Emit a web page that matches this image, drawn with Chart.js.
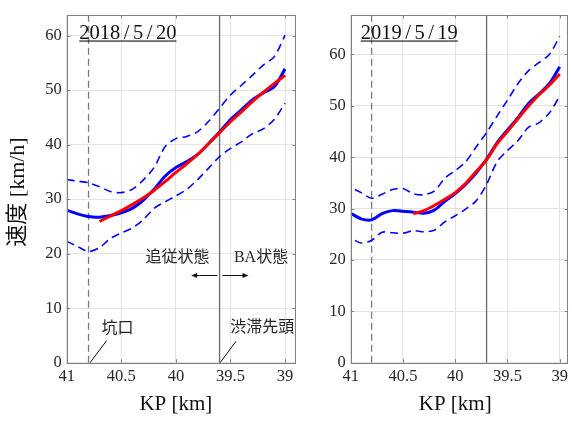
<!DOCTYPE html>
<html>
<head>
<meta charset="utf-8">
<script src="https://cdn.jsdelivr.net/npm/chart.js@4"></script>
<style>
  html, body { margin: 0; padding: 0; background: #fff; width: 572px; height: 421px; overflow: hidden; }
  canvas { position: absolute; top: 0; }
  #c1 { left: 0; }
  #c2 { left: 300px; }
</style>
</head>
<body>
<canvas id="c1" width="300" height="421"></canvas>
<canvas id="c2" width="272" height="421"></canvas>
<script>
// ---- KP positions (km) ----
const kp = [41.0, 40.9, 40.8, 40.7, 40.6, 40.5, 40.4, 40.3, 40.2, 40.1, 40.0,
            39.9, 39.8, 39.7, 39.6, 39.5, 39.4, 39.3, 39.2, 39.1, 39.0];

// ---- 2018/5/20 ----
const mean2018  = [28.0, 27.3, 26.8, 26.7, 27.0, 27.5, 28.3, 29.8, 31.8, 34.2, 35.8,
                   36.9, 38.2, 40.2, 42.3, 44.6, 46.4, 48.2, 49.5, 50.6, 53.9];
const upper2018 = [33.6, 33.3, 33.0, 32.3, 31.4, 31.2, 31.8, 33.5, 35.8, 39.6, 41.1,
                   41.5, 42.4, 44.3, 46.7, 49.1, 50.9, 52.7, 54.6, 56.1, 60.1];
const lower2018 = [22.3, 21.3, 20.4, 21.1, 22.8, 23.8, 24.7, 26.2, 28.3, 29.5, 30.6,
                   31.8, 33.6, 35.7, 37.8, 39.3, 40.5, 42.0, 42.9, 44.6, 47.6];
const fitKp2018 = [40.7, 40.6, 40.5, 40.4, 40.3, 40.2, 40.1, 40.0, 39.9,
                   39.8, 39.7, 39.6, 39.5, 39.4, 39.3, 39.2, 39.1, 39.0];
const fit2018   = [25.9, 26.9, 27.9, 29.0, 30.2, 31.6, 33.2, 34.9, 36.5,
                   38.2, 40.2, 42.2, 44.2, 46.0, 47.9, 49.6, 51.2, 52.7];

// ---- 2019/5/19 ----
const mean2019  = [29.1, 28.0, 27.8, 29.0, 29.6, 29.5, 29.3, 29.1, 29.7, 31.4, 32.9,
                   34.7, 36.9, 39.6, 42.8, 45.3, 47.7, 50.4, 52.3, 54.3, 57.6];
const bandKp2019 = [40.96, 40.9, 40.8, 40.7, 40.6, 40.5, 40.4, 40.3, 40.2, 40.1, 40.0,
                    39.9, 39.8, 39.7, 39.6, 39.5, 39.4, 39.3, 39.2, 39.1, 39.0];
const upper2019 = [33.7, 33.1, 32.0, 32.8, 33.7, 33.9, 32.9, 32.7, 33.4, 35.9, 37.4,
                   39.1, 42.0, 44.8, 48.0, 51.1, 54.3, 56.8, 58.4, 60.0, 63.5];
const lower2019 = [23.8, 23.3, 23.8, 25.4, 25.3, 25.2, 25.7, 25.5, 25.8, 27.4, 28.6,
                   29.9, 31.5, 34.7, 39.1, 41.3, 43.2, 45.8, 46.7, 48.6, 51.9];
const fitKp2019 = [40.4, 40.3, 40.2, 40.1, 40.0, 39.9, 39.8, 39.7, 39.6,
                   39.5, 39.4, 39.3, 39.2, 39.1, 39.0];
const fit2019   = [29.0, 29.6, 30.6, 31.8, 33.1, 34.9, 37.2, 39.5, 42.6,
                   45.0, 47.5, 49.9, 52.1, 54.0, 56.2];

// ---- axes ----
const xTicks = [41, 40.5, 40, 39.5, 39];
const xTickLabels = ['41', '40.5', '40', '39.5', '39'];
const yTicks = [0, 10, 20, 30, 40, 50, 60];
const yTickLabels = ['0', '10', '20', '30', '40', '50', '60'];

// ---- reference positions ----
const tunnelKp = 40.8;       // 坑口
const headKp2018 = 39.6;     // 渋滞先頭
const headKp2019 = 39.7;

const serif = '"Liberation Serif", "Noto Sans CJK JP", serif';
const inkColor = '#262626';

function pts(xs, ys) { return xs.map((x, i) => ({ x: x, y: ys[i] })); }

function vline(x, ymax, dashed, color) {
  return {
    data: [{ x: x, y: 0 }, { x: x, y: ymax }],
    borderColor: color, borderWidth: 1.3, borderDash: dashed ? [7, 4] : [],
    pointRadius: 0, tension: 0, order: 10
  };
}

// frame, inward ticks, title and annotations drawn on top of the plot
const decorations = {
  id: 'decorations',
  afterDraw(chart, args, o) {
    const ctx = chart.ctx;
    const a = chart.chartArea;
    const xs = chart.scales.x, ys = chart.scales.y;
    ctx.save();
    // frame
    ctx.strokeStyle = '#808080';
    ctx.lineWidth = 1;
    ctx.strokeRect(Math.round(a.left) + 0.5, Math.round(a.top) + 0.5,
                   Math.round(a.right - a.left) - 1, Math.round(a.bottom - a.top));
    // inward ticks
    const tl = 3.5;
    ctx.beginPath();
    xTicks.forEach(v => {
      const px = Math.round(xs.getPixelForValue(v)) + 0.5;
      ctx.moveTo(px, a.bottom); ctx.lineTo(px, a.bottom - tl);
      ctx.moveTo(px, a.top); ctx.lineTo(px, a.top + tl);
    });
    yTicks.forEach(v => {
      const py = Math.round(ys.getPixelForValue(v)) + 0.5;
      ctx.moveTo(a.left, py); ctx.lineTo(a.left + tl, py);
      ctx.moveTo(a.right, py); ctx.lineTo(a.right - tl, py);
    });
    ctx.stroke();

    // date title, underlined
    ctx.fillStyle = '#111';
    ctx.font = '20.5px ' + serif;
    ctx.textBaseline = 'alphabetic';
    ctx.textAlign = 'left';
    let tx = a.left + o.titleDx;
    const tx0 = tx;
    for (const ch of o.title) {
      if (ch === '/') tx += 3.5;
      ctx.fillText(ch, tx, 39);
      tx += ctx.measureText(ch).width;
      if (ch === '/') tx += 3.5;
    }
    ctx.fillRect(tx0, 40.5, tx - tx0, 1.1);

    // axis titles
    ctx.fillStyle = '#111';
    ctx.textAlign = 'center';
    ctx.font = '21px ' + serif;
    const xc = (xs.getPixelForValue(xTicks[0]) + xs.getPixelForValue(xTicks[xTicks.length - 1])) / 2;
    ctx.fillText('KP [km]', xc, 410);
    if (o.yTitle) {
      ctx.save();
      ctx.translate(18, 192);
      ctx.rotate(-Math.PI / 2);
      ctx.font = '22px ' + serif;
      ctx.textBaseline = 'middle';
      ctx.fillText('速度 [km/h]', 0, 0);
      ctx.restore();
    }

    // annotations in data coordinates
    ctx.fillStyle = inkColor;
    ctx.strokeStyle = '#111';
    ctx.font = '16px ' + serif;
    ctx.textBaseline = 'middle';
    ctx.textAlign = 'center';
    (o.labels || []).forEach(l => {
      ctx.fillText(l.text, xs.getPixelForValue(l.x), ys.getPixelForValue(l.y));
    });
    ctx.lineWidth = 1;
    (o.leaders || []).forEach(l => {
      ctx.beginPath();
      ctx.moveTo(xs.getPixelForValue(l.x1), ys.getPixelForValue(l.y1));
      ctx.lineTo(xs.getPixelForValue(l.x2), ys.getPixelForValue(l.y2));
      ctx.stroke();
    });
    ctx.fillStyle = '#111';
    (o.arrows || []).forEach(l => {
      const x1 = xs.getPixelForValue(l.x1), x2 = xs.getPixelForValue(l.x2);
      const y = Math.round(ys.getPixelForValue(l.y)) + 0.5;
      const dir = Math.sign(x2 - x1);
      ctx.beginPath();
      ctx.moveTo(x1, y); ctx.lineTo(x2 - dir * 4, y);
      ctx.stroke();
      ctx.beginPath();
      ctx.moveTo(x2, y);
      ctx.lineTo(x2 - dir * 6, y - 2.5);
      ctx.lineTo(x2 - dir * 6, y + 2.5);
      ctx.closePath();
      ctx.fill();
    });
    ctx.restore();
  }
};

function makeChart(id, cfg) {
  const ds = [
    vline(tunnelKp, cfg.ymax, true, '#7a7a7a'),
    vline(cfg.headKp, cfg.ymax, false, '#6a6a6a'),
    { data: pts(cfg.bandKp, cfg.upper), borderColor: '#0000ff', borderWidth: 1.6,
      borderDash: [8, 5], pointRadius: 0, tension: 0.3, order: 5 },
    { data: pts(cfg.bandKp, cfg.lower), borderColor: '#0000ff', borderWidth: 1.6,
      borderDash: [8, 5], pointRadius: 0, tension: 0.3, order: 5 },
    { data: pts(kp, cfg.mean), borderColor: '#0000ff', borderWidth: 3,
      pointRadius: 0, tension: 0.3, order: 2 },
    { data: pts(cfg.fitKp, cfg.fit), borderColor: '#ff0000', borderWidth: 3,
      pointRadius: 0, tension: 0.3, order: 1 }
  ];
  return new Chart(document.getElementById(id), {
    type: 'line',
    data: { datasets: ds },
    plugins: [decorations],
    options: {
      responsive: false,
      animation: false,
      events: [],
      layout: { padding: cfg.padding },
      plugins: {
        legend: { display: false },
        tooltip: { enabled: false },
        decorations: cfg.deco
      },
      scales: {
        x: {
          type: 'linear', reverse: true, min: cfg.xmin, max: 41,
          afterBuildTicks: s => { s.ticks = xTicks.map(v => ({ value: v })); },
          afterFit: s => { s.height = cfg.xAxisHeight; },
          ticks: {
            autoSkip: false, maxRotation: 0, padding: 4, color: inkColor,
            font: { family: serif, size: 16.5 },
            callback: (v, i) => xTickLabels[i]
          },
          grid: { color: '#e3e3e3', lineWidth: 1, drawTicks: false },
          border: { display: false }
        },
        y: {
          type: 'linear', min: 0, max: cfg.ymax,
          afterBuildTicks: s => { s.ticks = yTicks.map(v => ({ value: v })); },
          afterFit: s => { s.width = cfg.yAxisWidth; },
          ticks: {
            autoSkip: false, padding: 5, color: inkColor,
            font: { family: serif, size: 16.5 },
            callback: (v, i) => yTickLabels[i]
          },
          grid: { color: '#e3e3e3', lineWidth: 1, drawTicks: false },
          border: { display: false }
        }
      }
    }
  });
}

makeChart('c1', {
  ymax: 63.8, xmin: 38.9, headKp: headKp2018,
  bandKp: kp, upper: upper2018, lower: lower2018, mean: mean2018,
  fitKp: fitKp2018, fit: fit2018,
  padding: { left: 0, top: 6, right: 4, bottom: 0 },
  xAxisHeight: 58.3, yAxisWidth: 66.7,
  deco: {
    title: '2018/5/20', titleDx: 12.6, yTitle: true,
    labels: [
      { text: '追従状態', x: 39.985, y: 19.2 },
      { text: 'BA状態', x: 39.22, y: 19.2 },
      { text: '渋滞先頭', x: 39.21, y: 6.4 },
      { text: '坑口', x: 40.535, y: 6.3 }
    ],
    leaders: [
      { x1: 40.634, y1: 4.06, x2: 40.786, y2: 0 },
      { x1: 39.449, y1: 3.94, x2: 39.595, y2: 0 }
    ],
    arrows: [
      { x1: 39.62, x2: 39.86, y: 16.1 },
      { x1: 39.575, x2: 39.335, y: 16.1 }
    ]
  }
});

makeChart('c2', {
  ymax: 67.7, xmin: 38.92, headKp: headKp2019,
  bandKp: bandKp2019, upper: upper2019, lower: lower2019, mean: mean2019,
  fitKp: fitKp2019, fit: fit2019,
  padding: { left: 0, top: 6, right: 0.5, bottom: 0 },
  xAxisHeight: 58.3, yAxisWidth: 50.7,
  deco: { title: '2019/5/19', titleDx: 10, yTitle: false }
});
</script>
</body>
</html>
